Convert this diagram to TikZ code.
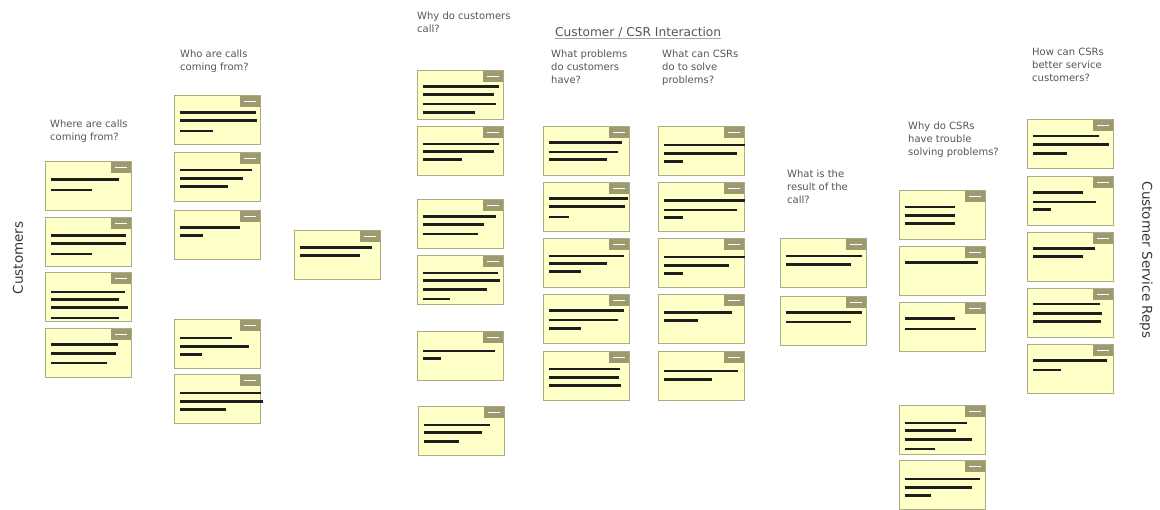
\documentclass[tikz,border=0pt]{standalone}
\usepackage{fontspec}
\setsansfont{DejaVu Sans}
\usetikzlibrary{calc}
\definecolor{notefill}{RGB}{255,255,200}
\definecolor{noteedge}{RGB}{172,172,132}
\definecolor{notehead}{RGB}{156,154,110}
\definecolor{askgray}{RGB}{85,85,85}
\definecolor{sidegray}{RGB}{55,55,55}
\definecolor{barblack}{RGB}{30,30,30}

% sticky note: name, x, y (top left), bars as dy/length/width
\newcommand{\stickynote}[4]{%
  \node[sticky] (#1) at (#2,#3) {};
  \fill[notehead] ([xshift=-20pt]#1.north east) rectangle ([yshift=-11pt]#1.north east);
  \draw[white,line width=1.5pt] ([xshift=-16pt,yshift=-5.5pt]#1.north east) -- ++(12,0);
  \foreach \dy/\len/\w in {#4}
    \draw[barblack,line width=\w pt] ($(#1.north west)+(6,\dy)$) -- ++(\len,0);
}

\begin{document}
\begin{tikzpicture}[x=1pt,y=-1pt,
    sticky/.style={draw=noteedge,fill=notefill,line width=1pt,minimum width=86pt,
      minimum height=49pt,inner sep=0pt,outer sep=0pt,anchor=north west},
    ask/.style={anchor=north west,align=left,inner sep=0pt,text=askgray,
      font=\sffamily\fontsize{10}{13}\selectfont},
    side/.style={inner sep=0pt,text=sidegray,font=\sffamily\fontsize{13.5}{16}\selectfont}]
    \useasboundingbox (0,0) rectangle (1160,510);

    \node[ask] (title) at (555,27) {\fontsize{12.2}{14}\selectfont Customer / CSR Interaction};
    \draw[gray!70,line width=0.8pt] ([yshift=-1.5pt]title.base west) -- ([yshift=-1.5pt]title.base east);

    \node[side,rotate=90] (cust) at (18,258) {Customers};
    \node[side,rotate=-90] (reps) at (1146,260) {Customer Service Reps};

    \node[ask] (q1) at (50,120) {Where are calls\\coming from?};
    \node[ask] (q2) at (180,50) {Who are calls\\coming from?};
    \node[ask] (q3) at (417,12) {Why do customers\\call?};
    \node[ask] (q4) at (551,50) {What problems\\do customers\\have?};
    \node[ask] (q5) at (662,50) {What can CSRs\\do to solve\\problems?};
    \node[ask] (q6) at (787,170) {What is the\\result of the\\call?};
    \node[ask] (q7) at (908,122) {Why do CSRs\\have trouble\\solving problems?};
    \node[ask] (q8) at (1032,48) {How can CSRs\\better service\\customers?};

    % where
    \stickynote{a1}{45}{162}{18/68/3, 28/41/2}
    \stickynote{a2}{45}{218}{18/75/3, 26/75/3, 36/41/2}
    \stickynote{a3}{45}{273}{19/74/2, 27/68/3, 35/77/3, 45/68/2}
    \stickynote{a4}{45}{329}{16/67/3, 25/65/3, 34/56/2}
    % who
    \stickynote{b1}{174}{96}{17/76/3, 25/77/3, 35/33/2}
    \stickynote{b2}{174}{153}{17/72/2, 26/63/3, 34/48/3}
    \stickynote{b3}{174}{211}{17/60/3, 25/23/3}
    \stickynote{b4}{174}{320}{18/52/2, 27/69/3, 35/22/3}
    \stickynote{b5}{174}{375}{18/81/2, 27/83/3, 35/46/3}
    \stickynote{c1}{294}{231}{17/72/3, 25/60/3}
    % why
    \stickynote{d1}{417}{71}{16/76/3, 24/71/3, 33/73/2, 42/52/3}
    \stickynote{d2}{417}{127}{17/76/2, 25/71/3, 33/39/3}
    \stickynote{d3}{417}{200}{17/73/3, 25/61/3, 34/55/2}
    \stickynote{d4}{417}{256}{17/75/2, 25/77/3, 34/64/3, 43/27/2}
    \stickynote{d5}{417}{332}{19/72/2, 27/18/3}
    \stickynote{d6}{418}{407}{18/66/2, 26/58/3, 35/35/3}
    % problems
    \stickynote{e1}{543}{127}{16/73/3, 25/69/2, 33/58/3}
    \stickynote{e2}{543}{183}{16/79/3, 24/76/3, 34/20/2}
    \stickynote{e3}{543}{239}{17/75/2, 25/58/3, 33/32/3}
    \stickynote{e4}{543}{295}{16/75/3, 25/69/2, 34/32/3}
    \stickynote{e5}{543}{352}{17/71/2, 26/70/3, 34/72/3}
    % solve
    \stickynote{f1}{658}{127}{18/81/2, 27/73/3, 35/19/3}
    \stickynote{f2}{658}{183}{18/81/3, 27/73/2, 35/19/3}
    \stickynote{f3}{658}{239}{18/81/2, 27/65/3, 35/19/3}
    \stickynote{f4}{658}{295}{18/68/3, 26/34/3}
    \stickynote{f5}{658}{352}{19/74/2, 28/48/3}
    % result
    \stickynote{g1}{780}{239}{17/76/2, 26/65/3}
    \stickynote{g2}{780}{297}{16/76/3, 25/65/2}
    % trouble
    \stickynote{h1}{899}{191}{16/50/2, 25/50/3, 33/50/3}
    \stickynote{h2}{899}{247}{16/73/3}
    \stickynote{h3}{899}{303}{16/50/3, 26/71/2}
    \stickynote{h4}{899}{406}{17/62/2, 25/51/3, 34/67/3, 43/30/2}
    \stickynote{h5}{899}{461}{18/75/2, 27/67/3, 35/26/3}
    % better service
    \stickynote{i1}{1027}{120}{16/66/2, 25/76/3, 34/34/3}
    \stickynote{i2}{1027}{177}{16/50/3, 25/63/2, 33/18/3}
    \stickynote{i3}{1027}{233}{16/62/3, 24/50/3}
    \stickynote{i4}{1027}{289}{15/67/2, 25/69/3, 33/68/3}
    \stickynote{i5}{1027}{345}{16/74/3, 25/28/2}
\end{tikzpicture}
\end{document}
